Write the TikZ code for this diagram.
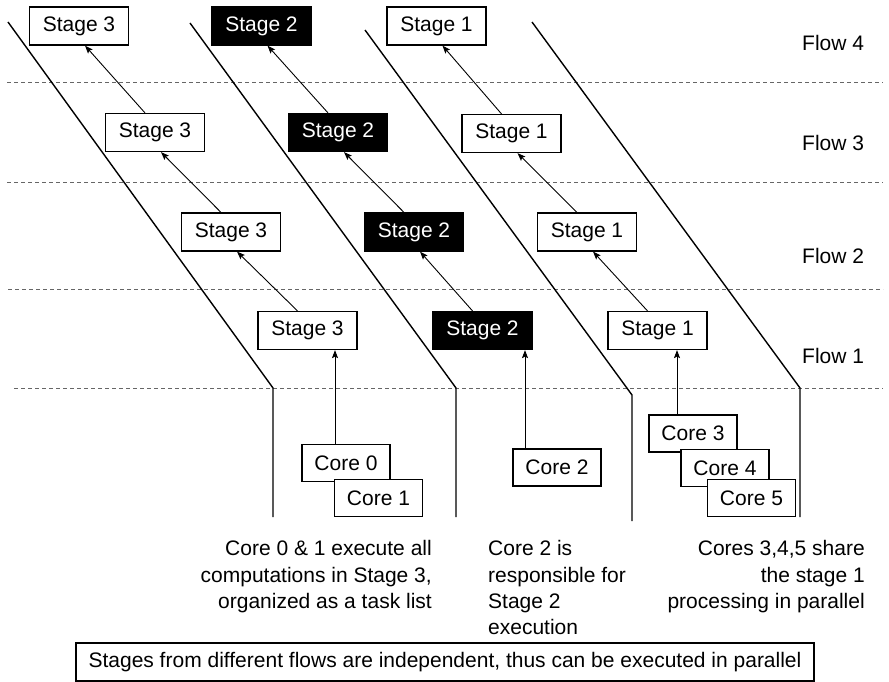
\documentclass[tikz,border=0pt]{standalone}
\usepackage{fontspec}
\setmainfont{Liberation Sans}
\usetikzlibrary{arrows.meta}
\begin{document}
\begin{tikzpicture}[x=1pt,y=-1pt,
  txt/.style={font=\fontsize{21}{26}\selectfont},
  stagebox/.style={draw=black, line width=1.2pt, fill=white, minimum width=99pt,
    minimum height=38pt, inner sep=0pt, txt},
  hotbox/.style={stagebox, fill=black, text=white},
  corebox/.style={draw=black, line width=1.2pt, fill=white, minimum width=88pt,
    minimum height=37pt, inner sep=0pt, txt},
  lane/.style={line width=1.4pt},
  sep/.style={draw=black!60, line width=1pt, dash pattern=on 4pt off 3pt},
  flowarr/.style={line width=0.9pt, -{Stealth[length=8pt,width=6pt,inset=1.5pt]}},
  note/.style={txt, inner sep=0pt},
]
\useasboundingbox (0,0) rectangle (889,682);

% flow separators
\draw[sep] (7,83) -- (883,83);
\draw[sep] (7,182) -- (883,182);
\draw[sep] (8,289) -- (883,289);
\draw[sep] (14,388) -- (883,388);

% lanes of the pipeline
\draw[lane] (8,22) -- (273,388) -- (273,517);
\draw[lane] (190,23) -- (456,388) -- (456,517);
\draw[lane] (365,30) -- (632,395) -- (632,521);
\draw[lane] (532,22) -- (800,388) -- (800,517);

% stages, one row per flow
\node[stagebox] (s3-4) at (79,26)      {Stage 3};
\node[hotbox]   (s2-4) at (261.5,26)   {Stage 2};
\node[stagebox] (s1-4) at (436.5,26)   {Stage 1};
\node[stagebox] (s3-3) at (155,132.5)  {Stage 3};
\node[hotbox]   (s2-3) at (338,132.5)  {Stage 2};
\node[stagebox] (s1-3) at (511.5,133.5){Stage 1};
\node[stagebox] (s3-2) at (231,232)    {Stage 3};
\node[hotbox]   (s2-2) at (414,232)    {Stage 2};
\node[stagebox] (s1-2) at (587,232)    {Stage 1};
\node[stagebox] (s3-1) at (307.5,330.5){Stage 3};
\node[hotbox]   (s2-1) at (482.5,330.5){Stage 2};
\node[stagebox] (s1-1) at (657.5,330.5){Stage 1};

% flow labels
\node[note, anchor=base west] (f4) at (802,51)  {Flow 4};
\node[note, anchor=base west] (f3) at (802,150) {Flow 3};
\node[note, anchor=base west] (f2) at (802,263) {Flow 2};
\node[note, anchor=base west] (f1) at (802,363) {Flow 1};

% stage-to-stage hand-over between flows
\foreach \c in {3,2,1}{
  \foreach \lo/\hi in {1/2,2/3,3/4}{
    \draw[flowarr] ([xshift=-10]s\c-\lo.north) -- ([xshift=6]s\c-\hi.south);
  }
}

% cores
\node[corebox] (core0) at (346,463)   {Core 0};
\node[corebox] (core1) at (378.5,498) {Core 1};
\node[corebox] (core2) at (557,467.5) {Core 2};
\node[corebox] (core3) at (693,433.5) {Core 3};
\node[corebox] (core4) at (725,468)   {Core 4};
\node[corebox] (core5) at (751.5,498) {Core 5};

\draw[flowarr] ([xshift=-11]core0.north) -- ([xshift=-11]core0.north |- s3-1.south);
\draw[flowarr] ([xshift=-32]core2.north) -- ([xshift=-32]core2.north |- s2-1.south);
\draw[flowarr] ([xshift=-16]core3.north) -- ([xshift=-16]core3.north |- s1-1.south);

% explanations
\node[note, anchor=base east] (a1) at (432,555) {Core 0 \& 1 execute all};
\node[note, anchor=base east] (a2) at (432,582) {computations in Stage 3,};
\node[note, anchor=base east] (a3) at (432,608) {organized as a task list};

\node[note, anchor=base west] (b1) at (488,555) {Core 2 is};
\node[note, anchor=base west] (b2) at (488,582) {responsible for};
\node[note, anchor=base west] (b3) at (488,608) {Stage 2};
\node[note, anchor=base west] (b4) at (488,634) {execution};

\node[note, anchor=base east] (c1) at (865,555) {Cores 3,4,5 share};
\node[note, anchor=base east] (c2) at (865,582) {the stage 1};
\node[note, anchor=base east] (c3) at (865,608) {processing in parallel};

\node[draw=black, line width=1.1pt, minimum width=738pt, minimum height=38pt,
  inner sep=0pt, txt] (summary) at (445,662)
  {Stages from different flows are independent, thus can be executed in parallel};
\end{tikzpicture}
\end{document}
